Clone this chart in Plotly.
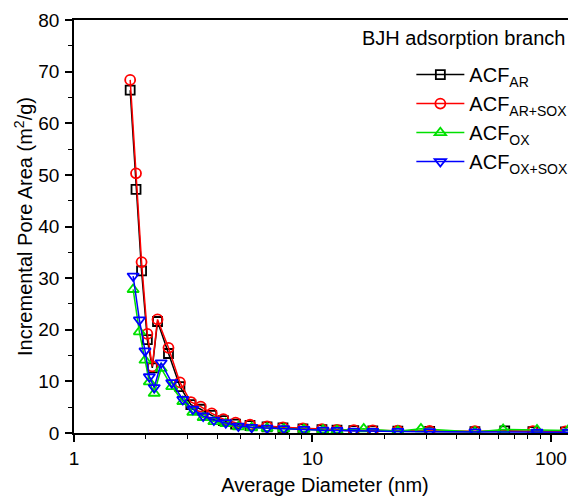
import numpy as np
import plotly.graph_objects as go

# ACF_AR (black squares)
ar_d = [1.72, 1.82, 1.92, 2.03, 2.13, 2.24, 2.49, 2.78, 3.09, 3.40, 3.78, 4.23, 4.76, 5.47,
        6.45, 7.52, 9.12, 10.96, 12.67, 14.9, 17.9, 22.8, 31.0, 48.0, 64.0, 84.0, 115.0]
ar_v = [66.4, 47.2, 31.4, 18.1, 12.6, 21.6, 15.4, 9.0, 5.5, 4.6, 3.4, 2.4, 1.7, 1.45,
        1.2, 1.0, 0.8, 0.65, 0.55, 0.45, 0.4, 0.35, 0.3, 0.25, 0.4, 0.25, 0.2]

# ACF_AR+SOX (red circles)
arsox_d = [1.72, 1.82, 1.92, 2.03, 2.13, 2.24, 2.49, 2.78, 3.09, 3.40, 3.78, 4.23, 4.76, 5.47,
           6.45, 7.52, 9.12, 10.96, 12.67, 14.9, 17.9, 22.8, 31.0, 48.0, 84.0, 115.0]
arsox_v = [68.4, 50.3, 33.1, 19.2, 12.9, 22.0, 16.5, 9.8, 6.0, 5.1, 3.8, 2.7, 2.0, 1.6,
           1.3, 1.1, 0.9, 0.75, 0.6, 0.55, 0.5, 0.45, 0.4, 0.35, 0.35, 0.3]

# ACF_OX (green up-triangles)
ox_d = [1.77, 1.88, 1.985, 2.07, 2.17, 2.32, 2.57, 2.86, 3.15, 3.48, 3.86, 4.33, 4.89, 5.56,
        6.45, 7.58, 9.21, 11.07, 12.67, 16.4, 22.8, 28.5, 48.0, 63.0, 87.4, 118.0]
ox_v = [27.8, 19.6, 14.1, 9.9, 7.7, 12.5, 9.0, 6.1, 4.0, 3.0, 2.2, 1.8, 1.2, 1.0,
        0.9, 0.8, 0.7, 0.6, 0.5, 0.8, 0.35, 0.8, 0.2, 0.7, 0.6, 0.5]

# ACF_OX+SOX (blue down-triangles)
oxsox_d = [1.77, 1.88, 1.985, 2.07, 2.17, 2.32, 2.57, 2.86, 3.15, 3.48, 3.86, 4.33, 4.89, 5.56,
           6.45, 7.58, 9.21, 11.07, 12.67, 14.9, 17.9, 22.8, 31.0, 48.0, 87.4, 118.0]
oxsox_v = [30.4, 21.9, 15.9, 10.9, 8.8, 13.6, 9.75, 6.5, 4.6, 3.3, 2.5, 2.0, 1.35, 1.1,
           0.95, 0.85, 0.7, 0.55, 0.5, 0.35, 0.3, 0.3, 0.25, 0.2, 0.15, 0.15]

series = [
    ("ACF<sub>AR</sub>", ar_d, ar_v, "#000000", "square-open", 9),
    ("ACF<sub>AR+SOX</sub>", arsox_d, arsox_v, "#ff0000", "circle-open", 10),
    ("ACF<sub>OX</sub>", ox_d, ox_v, "#00e000", "triangle-up-open", 10),
    ("ACF<sub>OX+SOX</sub>", oxsox_d, oxsox_v, "#0000ff", "triangle-down-open", 10),
]

FONT = "Liberation Sans, Arial, sans-serif"

fig = go.Figure()
for name, d, v, col, sym, sz in series:
    fig.add_trace(go.Scatter(
        x=d, y=v, name=name, mode="lines+markers",
        line=dict(color=col, width=1.5),
        marker=dict(symbol=sym, size=sz, color=col, line=dict(width=1.8, color=col)),
    ))

# page has an 8px body margin, so the figure is 8px smaller and margins shifted
fig.update_layout(
    width=568, height=492,
    margin=dict(l=66, r=0, t=12, b=67),
    paper_bgcolor="white", plot_bgcolor="white",
    font=dict(family=FONT, color="black", size=20),
    showlegend=True,
    legend=dict(x=0.672, y=0.915, xanchor="left", yanchor="top",
                bgcolor="rgba(0,0,0,0)", font=dict(size=20, family=FONT),
                tracegroupgap=2, itemwidth=48),
    annotations=[dict(text="BJH adsorption branch", xref="paper", yref="paper",
                      x=0.570, y=0.956, xanchor="left", yanchor="middle",
                      showarrow=False, font=dict(size=20, family=FONT))],
)

fig.update_xaxes(
    type="log", range=[0, 2.105],
    showgrid=False, zeroline=False,
    showline=True, linecolor="black", linewidth=1.5, mirror=True,
    ticks="outside", ticklen=7, tickwidth=1.5, tickcolor="black",
    tickvals=[1, 10, 100], ticktext=["1", "10", "100"],
    minor=dict(ticks="outside", ticklen=4, tickwidth=1.2, tickcolor="black",
               tickvals=[2, 3, 4, 5, 6, 7, 8, 9, 20, 30, 40, 50, 60, 70, 80, 90]),
    tickfont=dict(size=19),
    title=dict(text="Average Diameter (nm)", font=dict(size=20), standoff=10),
)
fig.update_yaxes(
    range=[0, 80],
    showgrid=False, zeroline=False,
    showline=True, linecolor="black", linewidth=1.5,
    ticks="outside", ticklen=7, tickwidth=1.5, tickcolor="black",
    dtick=10,
    minor=dict(ticks="outside", ticklen=4, tickwidth=1.2, tickcolor="black", dtick=5),
    tickfont=dict(size=19),
    ticklabelstandoff=2,
    title=dict(text="Incremental Pore Area (m<sup>2</sup>/g)", font=dict(size=20), standoff=0),
)

fig.write_html("out.html")
